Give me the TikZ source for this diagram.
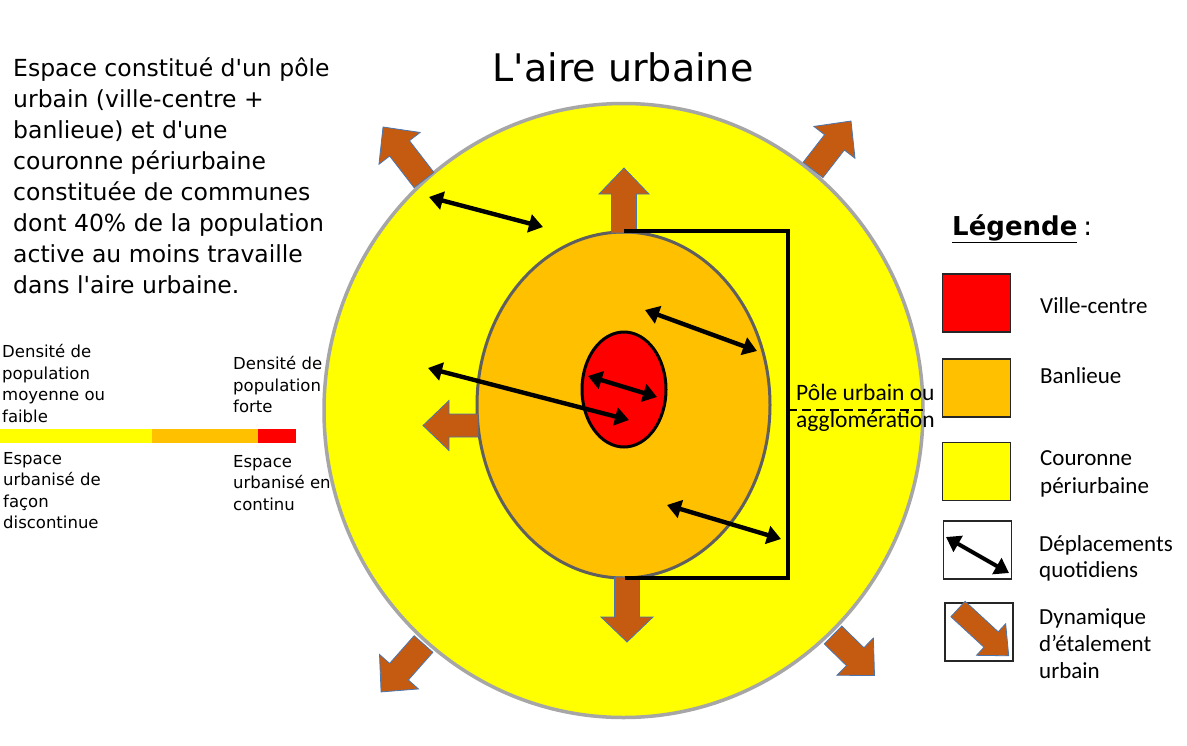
\documentclass[tikz,border=0pt]{standalone}
\usepackage{fontspec}
\setmainfont{DejaVu Sans}[Ligatures=TeXOff]
\newfontfamily\calib{Carlito}
\usetikzlibrary{arrows.meta,shapes.geometric}
\definecolor{cyel}{HTML}{FFFF00}
\definecolor{cora}{HTML}{FFC000}
\definecolor{cred}{HTML}{FF0000}
\definecolor{cbrown}{HTML}{C55A11}
\definecolor{cblueline}{HTML}{4A76B0}
\definecolor{cgrayout}{HTML}{A6A6A6}
\definecolor{cgrayin}{HTML}{5F5F5F}
\newcommand\fsz[2]{\fontsize{#1}{#2}\selectfont}
\newcommand\bkarrow[8]{%
  \draw[brownarrow,shift={(#1,#2)},rotate=#3]
    (0,{-#5/2}) -- ({#4-#7},{-#5/2}) -- ({#4-#7},{-#6/2}) -- (#4,0)
    -- ({#4-#7},{#6/2}) -- ({#4-#7},{#5/2}) -- (0,{#5/2}) -- cycle;}
\tikzset{
  brownarrow/.style={fill=cbrown,draw=cblueline,line width=0.8pt,line join=miter},
  dbl/.style={line width=4.4pt,{Triangle[length=14pt,width=18pt]}-{Triangle[length=14pt,width=18pt]}},
  comic/.style={anchor=base west,inner sep=0pt,font=\fsz{16.5}{19}},
  bigcomic/.style={anchor=base west,inner sep=0pt,font=\fsz{23.5}{28}},
  legtxt/.style={anchor=base west,inner sep=0pt,font=\calib\fsz{23}{27}},
  legbox/.style={draw=black!85,line width=1.2pt,minimum width=68pt,minimum height=58pt,inner sep=0pt},
}
\begin{document}
\begin{tikzpicture}[x=1pt,y=-1pt]
\useasboundingbox (0,0) rectangle (1187,745);
\fill[white] (0,0) rectangle (1187,745);

% rings
\node[ellipse,draw=cgrayout,fill=cyel,line width=3.5pt,minimum width=599pt,minimum height=614pt,inner sep=0pt] (outer) at (623.5,410.5) {};
% outer spreading arrows
\bkarrow{424}{180}{127.7}{67}{25}{52}{27}{}
\bkarrow{813}{170}{52.2}{62}{25}{52}{27}{}
\bkarrow{423.5}{644}{-131.5}{64}{25}{52}{27}{}
\bkarrow{833}{635}{-44.3}{58}{25}{52}{27}{}

\node[ellipse,draw=cgrayin,fill=cora,line width=3pt,minimum width=293pt,minimum height=346pt,inner sep=0pt] (banl) at (623.5,405) {};
\node[ellipse,draw=black,fill=cred,line width=3pt,minimum width=84pt,minimum height=115pt,inner sep=0pt] (vc) at (624,389.5) {};

% inner spreading arrows
\bkarrow{624}{233}{90}{65}{25}{50}{26}{}
\bkarrow{627}{577}{-90}{65}{25}{52}{25}{}
\bkarrow{478}{425.5}{180}{55}{23}{50}{26}{}

% bracket
\coordinate (bt) at (623.5,231);
\coordinate (bb) at (625,578);
\draw[line width=3.2pt,line join=miter] (bt) -- (788,231) -- (788,578) -- (bb);
\coordinate (d1) at (788,410);
\coordinate (d2) at (923,410);
\draw[line width=2.8pt,dash pattern=on 9pt off 5pt] (d1) -- (d2);
\node[legtxt,font=\calib\fsz{23.5}{27}] (pole1) at (796,400) {Pôle urbain ou};
\node[legtxt,font=\calib\fsz{23.5}{27}] (pole2) at (796,427) {agglomération};

% daily movements
\coordinate (a1) at (429,197);  \coordinate (a2) at (543,227);
\coordinate (b1) at (645,310);  \coordinate (b2) at (757,351);
\coordinate (c1) at (588,376);  \coordinate (c2) at (657,397);
\coordinate (e1) at (428,368);  \coordinate (e2) at (629,420);
\coordinate (f1) at (667,505);  \coordinate (f2) at (781,539);
\draw[dbl] (a1) -- (a2);
\draw[dbl] (b1) -- (b2);
\draw[dbl] (c1) -- (c2);
\draw[dbl] (e1) -- (e2);
\draw[dbl] (f1) -- (f2);

% title
\node[anchor=base,inner sep=0pt,font=\fsz{38}{44}] (title) at (623,81) {L'aire urbaine};

% paragraph
\node[bigcomic] (p1) at (13,76) {Espace constitué d'un pôle};
\node[bigcomic] (p2) at (13,107) {urbain (ville-centre +};
\node[bigcomic] (p3) at (13,138) {banlieue) et d'une};
\node[bigcomic] (p4) at (13,169) {couronne périurbaine};
\node[bigcomic] (p5) at (13,200) {constituée de communes};
\node[bigcomic] (p6) at (13,231) {dont 40\% de la population};
\node[bigcomic] (p7) at (13,262) {active au moins travaille};
\node[bigcomic] (p8) at (13,293) {dans l'aire urbaine.};

% density scale
\node[comic] (l1) at (2,357) {Densité de};
\node[comic] (l2) at (2,379) {population};
\node[comic] (l3) at (2,400.5) {moyenne ou};
\node[comic] (l4) at (2,422) {faible};
\node[comic] (r1) at (233,369) {Densité de};
\node[comic] (r2) at (233,391) {population};
\node[comic] (r3) at (233,412.5) {forte};
\fill[cyel] (0,429) rectangle (152,443);
\fill[cora] (152,429) rectangle (258,443);
\fill[cred] (258,429) rectangle (296,443);
\node[comic] (l5) at (3,464) {Espace};
\node[comic] (l6) at (3,485.5) {urbanisé de};
\node[comic] (l7) at (3,507) {façon};
\node[comic] (l8) at (3,528.5) {discontinue};
\node[comic] (r4) at (233,467) {Espace};
\node[comic] (r5) at (233,488.5) {urbanisé en};
\node[comic] (r6) at (233,510) {continu};

% legend
\node[anchor=base west,inner sep=0pt,font=\bfseries\fsz{26}{30}] (leg) at (952,235) {\underline{Légende}\hspace{6pt}\mdseries :};
\node[legbox,fill=cred] (kv) at (976.5,303) {};
\node[legbox,fill=cora] (kb) at (976.5,388) {};
\node[legbox,fill=cyel] (kc) at (976.5,471.5) {};
\node[legbox,fill=white] (kd) at (977.5,550) {};
\node[legbox,fill=white] (ke) at (979,632) {};
\coordinate (k1) at (946,537); \coordinate (k2) at (1009,573);
\draw[dbl,line width=4pt] (k1) -- (k2);
\bkarrow{958}{609}{-42.7}{69}{21}{43}{24}{}
\node[legtxt] (tv) at (1040,313) {Ville-centre};
\node[legtxt] (tb) at (1040,383) {Banlieue};
\node[legtxt] (tc1) at (1040,465) {Couronne};
\node[legtxt] (tc2) at (1040,493) {périurbaine};
\node[legtxt] (td1) at (1039,551) {Déplacements};
\node[legtxt] (td2) at (1039,577) {quotidiens};
\node[legtxt] (te1) at (1039,624) {Dynamique};
\node[legtxt] (te2) at (1039,651) {d’étalement};
\node[legtxt] (te3) at (1039,678) {urbain};
\end{tikzpicture}
\end{document}
